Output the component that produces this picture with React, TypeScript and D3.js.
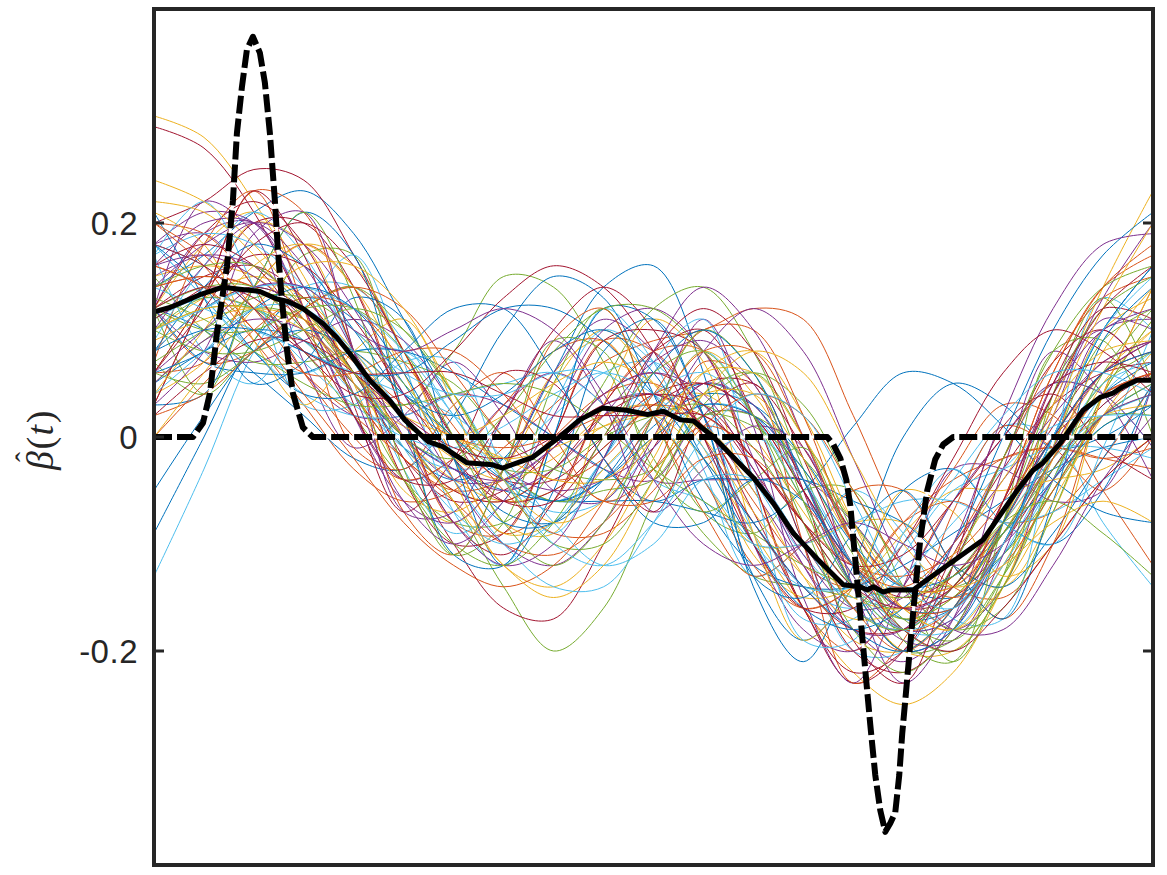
import React from 'react';
import * as d3 from 'd3';

// knot positions (t in [0,1]) of the thin estimated curves
const tGrid = [0, 0.05, 0.1, 0.15, 0.2, 0.25, 0.3, 0.35, 0.4, 0.45, 0.5, 0.55, 0.6, 0.65, 0.7, 0.75, 0.8, 0.85, 0.9, 0.95, 1];

// thin estimated curves, values in hundredths
const curvesCenti: number[][] = [
  [14,17,21,23,19,11,3,-3,-6,-4,1,4,3,-2,-9,-14,-15,-11,-4,2,5],
  [16,14,9,3,-3,-6,-5,-1,3,7,9,10,12,11,2,-8,-14,-15,-10,-4,0],
  [30,28,22,14,6,0,-4,-6,-5,-1,3,4,0,-7,-13,-17,-15,-9,-1,6,10],
  [15,17,16,12,6,0,-4,-4,-1,3,4,1,-5,-12,-18,-21,-17,-8,3,13,20],
  [10,12,12,9,5,0,-6,-14,-20,-16,-6,3,6,3,-5,-12,-14,-11,-5,1,3],
  [-13,-3,8,14,14,9,2,-4,-7,-6,-1,3,2,-5,-13,-18,-17,-11,-3,3,6],
  [29,27,21,12,4,-2,-6,-5,-1,4,6,3,-3,-10,-16,-18,-14,-7,1,7,9],
  [-9,0,9,13,11,5,-2,-7,-8,-4,2,5,3,-4,-12,-17,-16,-10,-2,4,7],
  [14,15,14,10,4,-2,-5,-4,0,4,5,1,-6,-12,-14,-10,-3,3,2,-5,-12],
  [15,16,15,11,5,-1,-5,-6,-3,1,2,-2,-9,-16,-22,-25,-22,-14,-4,5,10],
  [12,19,20,12,2,-4,-2,3,6,3,-4,-4,-4,-4,-8,-14,-18,-14,-1,10,11],
  [5,9,12,11,6,3,8,15,14,7,-2,-9,-13,-14,-15,-16,-13,-7,-1,2,2],
  [11,13,12,9,4,-1,-3,-2,2,6,7,3,-4,-11,-15,-13,-6,1,0,-8,-14],
  [20,22,25,24,17,8,0,-4,-4,0,4,5,2,-5,-12,-16,-15,-10,-3,3,6],
  [8,12,14,12,6,-1,-4,-2,6,14,16,6,-14,-21,-12,0,5,3,-1,0,3],
  [12,7,8,12,14,8,-2,-9,-6,3,8,8,-4,-16,-20,-14,-6,-2,-1,-2,-1],
  [10,13,15,13,8,2,-2,-4,-2,2,3,1,-5,-13,-19,-20,-16,-8,3,14,23],
  [18,19,14,6,2,2,4,3,0,-3,-4,2,2,-4,-14,-20,-18,-8,5,10,5],
  [10,13,12,8,2,-4,-8,-8,-3,5,12,14,8,-3,-14,-20,-19,-13,-5,2,5],
  [18,13,8,6,8,8,4,-3,-6,-3,2,8,2,-10,-20,-20,-12,-2,5,4,-1],
  [12,15,16,13,7,0,-5,-6,-3,2,4,1,-7,-16,-23,-20,-11,-3,3,6,7],
  [12,10,6,2,-2,-3,2,10,15,13,4,-6,-12,-14,-14,-12,-9,-6,-3,-1,0],
  [6,7,14,18,14,2,-8,-9,0,9,8,2,-10,-16,-14,-8,-6,-8,-7,-2,5],
  [6,13,20,18,8,-4,-8,-3,6,9,2,-4,-10,-10,-8,-8,-12,-14,-7,4,11],
  [12,22,19,7,-1,2,7,2,-5,-6,2,11,1,-15,-23,-14,-3,-3,-6,-5,5],
  [12,4,9,17,17,2,-11,-8,5,12,2,-7,-9,-5,-5,-14,-21,-13,4,13,5],
  [17,8,5,12,17,7,-7,-12,0,12,7,-3,-13,-10,-5,-9,-17,-17,-1,13,10],
  [8,12,14,12,6,-2,-10,-16,-17,-10,-1,5,5,-1,-9,-14,-14,-9,-2,4,6],
  [5,8,10,9,5,0,-3,-5,-6,-6,-6,-7,-8,-5,1,6,5,1,-4,-7,-8],
  [7,18,23,12,-1,-3,3,6,0,-6,-3,7,5,-10,-23,-19,-7,1,-1,-5,0],
  [12,18,21,15,5,-5,-7,-3,5,10,5,-1,-11,-15,-14,-9,-5,-5,-4,-3,0],
  [12,8,7,9,11,9,3,-3,-5,-4,-1,5,3,-5,-14,-19,-19,-11,2,11,10],
  [15,10,7,7,8,7,5,0,-3,-4,-3,2,1,-3,-11,-17,-19,-13,-1,9,12],
  [9,16,21,17,8,-3,-9,-6,3,10,7,2,-9,-17,-17,-11,-5,-3,-1,-1,-2],
  [12,19,22,18,8,-4,-10,-9,0,9,10,8,-4,-16,-22,-20,-12,-2,7,10,5],
  [12,7,6,6,8,8,6,3,0,-3,-6,-4,-4,-4,-6,-8,-12,-14,-9,-2,5],
  [20,19,14,6,0,-4,-2,3,8,9,2,-4,-12,-16,-14,-8,-4,-2,-1,-2,-3],
  [4,7,14,18,16,8,-2,-9,-8,-3,2,8,4,-4,-14,-20,-20,-14,-1,10,13],
  [18,21,20,12,2,-6,-8,-3,6,11,8,2,-10,-18,-20,-14,-6,0,5,4,-1],
  [6,5,8,12,14,10,4,-3,-6,-5,-4,2,2,-2,-8,-14,-18,-16,-7,4,11],
  [18,13,8,4,2,2,4,5,6,3,-4,-6,-10,-10,-8,-6,-6,-8,-7,-4,-1],
  [6,13,20,20,14,2,-8,-11,-6,3,8,10,2,-10,-20,-22,-18,-8,5,12,11],
  [3,4,14,21,17,2,-11,-12,0,12,11,2,-13,-19,-14,-5,-3,-8,-10,-5,5],
  [3,13,23,21,8,-7,-11,-3,9,12,2,-7,-13,-10,-5,-5,-12,-17,-10,4,14],
  [21,18,9,3,8,11,3,-8,-9,3,11,7,-9,-19,-14,-5,-7,-13,-10,4,14],
  [3,8,19,21,8,-7,-7,2,9,3,-7,-3,1,-1,-14,-23,-17,-3,8,4,-4],
  [7,4,14,21,13,-3,-11,-3,9,8,-3,-7,-4,-1,-9,-19,-21,-8,8,9,0],
  [17,22,14,3,3,7,7,-3,-9,-2,7,11,-4,-19,-19,-9,-3,-8,-10,-1,10],
  [3,13,23,17,3,-7,-2,6,5,-2,-7,2,5,-5,-19,-23,-12,1,4,-1,-4],
  [21,13,5,7,13,11,-2,-12,-5,8,11,2,-13,-15,-9,-5,-12,-17,-6,9,14],
  [14,15,14,11,7,3,0,-1,0,2,3,2,-2,-8,-12,-13,-11,-6,0,4,6],
  [9,11,12,11,8,4,0,-2,-1,1,2,1,-4,-10,-15,-16,-13,-8,-2,2,3],
  [16,17,15,11,5,0,-3,-4,-1,4,6,4,-3,-11,-16,-15,-10,-4,2,7,9],
  [7,10,13,13,10,5,0,-3,-3,0,2,3,-1,-8,-14,-17,-15,-9,-2,5,8],
  [18,16,12,7,3,0,-1,1,4,6,4,-1,-8,-14,-16,-13,-8,-3,1,2,2],
  [11,14,17,16,11,4,-2,-6,-5,-1,3,5,2,-5,-12,-15,-13,-7,0,6,9],
  [-5,2,8,10,8,4,0,-4,-6,-4,0,3,2,-3,-10,-14,-13,-9,-4,1,3],
  [0,5,10,13,12,7,1,-5,-9,-9,-5,1,4,2,-5,-12,-15,-12,-5,2,6],
  [22,21,17,11,5,1,0,2,5,7,5,0,-7,-13,-17,-16,-11,-4,3,8,9],
  [5,9,11,10,6,1,-3,-5,-3,2,7,9,5,-4,-13,-18,-17,-10,-1,6,9],
  [13,11,8,5,3,3,4,5,4,1,-3,-6,-9,-12,-14,-15,-13,-9,-3,2,4],
  [17,19,18,14,7,-1,-7,-10,-8,-2,4,6,2,-6,-14,-18,-16,-10,-2,5,7],
  [2,6,9,9,6,2,-1,-2,0,3,4,3,-2,-8,-12,-11,-6,0,5,7,6],
  [8,14,18,16,10,4,2,4,8,10,6,-2,-10,-16,-18,-16,-10,0,10,17,21],
  [20,17,12,6,2,-2,-6,-10,-11,-8,-3,1,-1,-6,-12,-14,-10,-2,7,13,15],
  [4,10,16,18,14,6,-4,-12,-14,-10,-2,6,8,2,-8,-16,-18,-14,-6,2,8],
  [16,20,20,14,4,-6,-10,-6,2,10,12,8,-2,-12,-18,-18,-10,2,12,18,19],
  [10,8,8,10,12,10,4,-4,-10,-10,-4,4,6,0,-10,-18,-20,-14,-4,6,12],
  [14,12,10,8,6,4,2,-2,-8,-12,-10,-4,-4,-10,-16,-18,-14,-8,-2,2,4],
  [6,12,18,20,16,8,0,-6,-6,0,8,12,8,-2,-12,-18,-20,-16,-10,-4,0],
  [18,14,8,4,4,8,12,12,6,-2,-8,-8,-4,-6,-12,-16,-16,-10,0,10,16],
  [2,4,8,12,14,12,6,0,-4,-2,4,10,10,2,-10,-18,-16,-6,6,14,18],
  [24,22,18,12,6,2,0,-2,-4,-4,0,4,4,-2,-10,-16,-18,-12,-2,8,14],
  [10,16,20,18,12,4,-4,-10,-12,-8,0,8,12,8,-2,-12,-18,-18,-12,-4,2],
  [12,10,10,12,12,8,0,-8,-12,-8,2,10,6,-6,-16,-18,-12,-2,8,14,16],
  [8,12,14,14,12,8,2,-4,-10,-12,-8,-2,0,-4,-12,-18,-18,-12,-4,4,8],
  [16,18,16,10,2,-4,-4,2,10,14,10,0,-10,-16,-16,-10,-2,6,10,8,4],
  [6,8,12,14,12,6,-2,-8,-8,-2,6,10,6,-4,-14,-20,-18,-10,0,10,16],
  [20,16,10,6,6,8,8,4,-2,-6,-6,-2,-2,-8,-16,-20,-16,-6,6,14,17],
  [0,6,12,16,16,12,4,-4,-8,-6,0,6,6,0,-8,-14,-14,-8,2,12,20],
  [14,18,20,16,8,0,-8,-12,-10,-2,8,14,10,0,-10,-16,-14,-6,4,10,12],
  [12,14,14,10,4,-4,-10,-12,-8,0,6,8,2,-8,-18,-22,-18,-8,4,12,15],
  [10,12,14,14,10,6,4,4,6,6,2,-4,-10,-14,-14,-10,-4,2,6,6,4],
  [12,14,13,8,4,4,8,13,16,14,8,0,-8,-14,-18,-18,-14,-8,0,6,8],
  [8,10,10,8,6,6,9,12,12,9,4,-2,-8,-14,-18,-20,-16,-8,0,6,8],
  [16,14,10,4,-2,-8,-12,-14,-12,-6,2,8,8,0,-10,-16,-16,-10,-2,4,6],
  [10,12,12,10,6,0,-6,-12,-15,-12,-4,4,8,6,-2,-10,-14,-12,-8,-6,-8],
  [6,10,14,14,10,8,10,12,10,4,-4,-10,-12,-10,-8,-10,-12,-10,-4,2,4],
  [14,16,16,12,6,0,-2,2,8,12,12,8,2,-6,-14,-18,-14,-8,-6,-9,-13],
  [4,8,12,12,8,2,-4,-10,-14,-14,-8,0,4,2,-6,-14,-16,-10,0,10,15],
  [18,16,12,8,6,6,6,4,2,2,2,2,-2,-8,-14,-16,-14,-6,4,12,16],
];

// MATLAB default colour order
const palette = ['#0072BD', '#D95319', '#EDB120', '#7E2F8E', '#77AC30', '#4DBEEE', '#A2142F'];

// mean estimate (thick solid black)
const meanT = [0,0.016,0.046,0.069,0.086,0.106,0.123,0.133,0.149,0.169,0.183,0.196,0.216,0.236,0.251,0.274,0.289,0.313,0.339,0.349,0.379,0.406,0.426,0.449,0.473,0.494,0.51,0.527,0.54,0.56,0.58,0.6,0.62,0.64,0.664,0.69,0.707,0.714,0.72,0.73,0.737,0.76,0.77,0.797,0.83,0.847,0.864,0.88,0.89,0.907,0.93,0.947,0.96,0.97,0.984,1];
const meanV = [0.117,0.121,0.133,0.14,0.138,0.136,0.129,0.127,0.12,0.106,0.093,0.078,0.053,0.034,0.016,-0.004,-0.009,-0.024,-0.026,-0.029,-0.019,0,0.016,0.027,0.025,0.021,0.024,0.016,0.015,0,-0.019,-0.038,-0.062,-0.09,-0.114,-0.138,-0.14,-0.143,-0.14,-0.145,-0.143,-0.143,-0.136,-0.118,-0.096,-0.073,-0.05,-0.031,-0.024,-0.006,0.025,0.037,0.041,0.047,0.053,0.053];

// true coefficient function (thick dashed black)
const trueT = [0,0.039,0.049,0.056,0.063,0.073,0.079,0.083,0.088,0.093,0.099,0.106,0.111,0.116,0.121,0.124,0.128,0.133,0.139,0.149,0.159,0.674,0.68,0.687,0.693,0.697,0.702,0.707,0.712,0.717,0.722,0.727,0.732,0.737,0.742,0.746,0.749,0.753,0.757,0.762,0.767,0.774,0.782,0.79,0.8,1];
const trueV = [0,0,0.013,0.041,0.097,0.159,0.221,0.284,0.327,0.362,0.374,0.359,0.331,0.284,0.221,0.175,0.128,0.082,0.041,0.009,0,0,-0.007,-0.02,-0.04,-0.064,-0.115,-0.166,-0.218,-0.269,-0.316,-0.349,-0.369,-0.361,-0.351,-0.316,-0.277,-0.236,-0.194,-0.143,-0.096,-0.05,-0.021,-0.007,0,0];

const yTicks = [-0.2, 0, 0.2];
const yTickLabels = ['-0.2', '0', '0.2'];

export default function App() {
  const W = 1167, H = 875;
  const left = 154, right = 1153, top = 9, bottom = 865;
  const x = d3.scaleLinear().domain([0, 1]).range([left, right]);
  const y = d3.scaleLinear().domain([-0.4, 0.4]).range([bottom, top]);
  const axisColor = '#262626';

  const thin = d3.line<number>()
    .x((_, i) => x(tGrid[i]))
    .y((v) => y(v / 100))
    .curve(d3.curveCatmullRom.alpha(0.5));

  const pairLine = d3.line<[number, number]>()
    .x((d) => x(d[0]))
    .y((d) => y(d[1]))
    .curve(d3.curveLinear);

  const meanPts: [number, number][] = meanT.map((t, i) => [t, meanV[i]]);
  const truePts: [number, number][] = trueT.map((t, i) => [t, trueV[i]]);

  return (
    <svg width={W} height={H} style={{ position: 'absolute', left: 0, top: 0, background: '#fff' }}>
      <defs>
        <clipPath id="plotClip">
          <rect x={left} y={top} width={right - left} height={bottom - top} />
        </clipPath>
      </defs>
      <rect x={0} y={0} width={W} height={H} fill="#fff" />
      <g clipPath="url(#plotClip)">
        {curvesCenti.map((c, i) => (
          <path key={i} d={thin(c) || ''} fill="none" stroke={palette[i % palette.length]} strokeWidth={1} />
        ))}
        <path d={pairLine(truePts) || ''} fill="none" stroke="#fff" strokeWidth={3} strokeLinejoin="round" />
        <path d={pairLine(truePts) || ''} fill="none" stroke="#000" strokeWidth={6} strokeDasharray="18,5" strokeLinejoin="round" />
        <path d={pairLine(meanPts) || ''} fill="none" stroke="#000" strokeWidth={5} strokeLinejoin="round" />
      </g>
      {/* axes box */}
      <rect x={left} y={top} width={right - left} height={bottom - top} fill="none" stroke={axisColor} strokeWidth={4} />
      {yTicks.map((v, i) => (
        <g key={i}>
          <line x1={left} x2={left + 10} y1={y(v)} y2={y(v)} stroke={axisColor} strokeWidth={3} />
          <line x1={right} x2={right - 10} y1={y(v)} y2={y(v)} stroke={axisColor} strokeWidth={3} />
          <text x={138} y={y(v)} dy="0.36em" textAnchor="end" fontFamily="'Liberation Sans', Arial, Helvetica, sans-serif" fontSize={33} letterSpacing={0.5} fill={axisColor}>
            {yTickLabels[i]}
          </text>
        </g>
      ))}
      <g transform={`translate(53,${y(0)}) rotate(-90)`} fill={axisColor} fontFamily="'Liberation Serif', 'DejaVu Serif', serif">
        <text x={-33} y={0} fontSize={38} letterSpacing={1.5}>
          <tspan fontStyle="italic">{'\u03B2'}</tspan>
          <tspan>(</tspan>
          <tspan fontStyle="italic">t</tspan>
          <tspan>)</tspan>
        </text>
        <text x={-20} y={-17} fontSize={30} textAnchor="middle">{'\u02C6'}</text>
      </g>
    </svg>
  );
}
